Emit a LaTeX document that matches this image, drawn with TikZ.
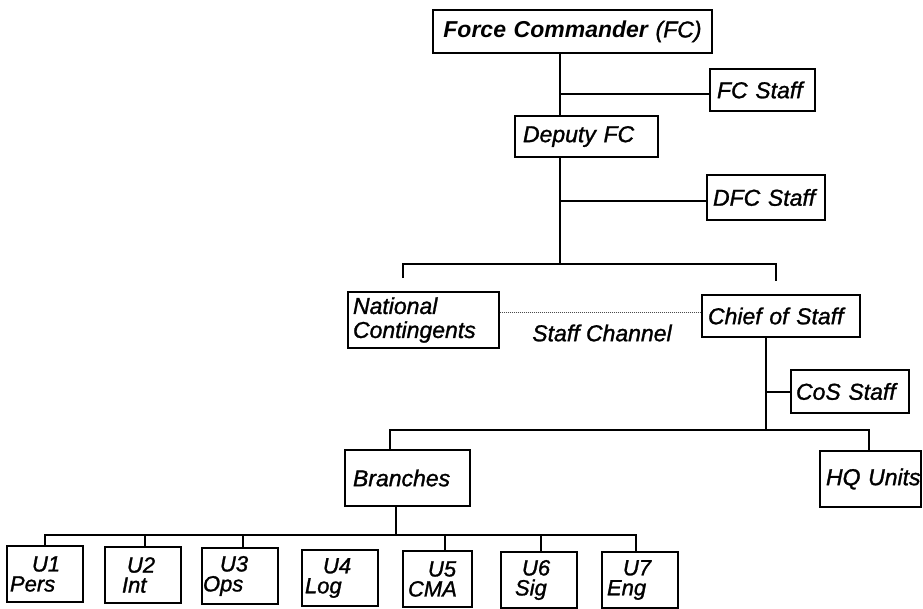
\documentclass[tikz,border=0pt]{standalone}
\usepackage{fontspec}
\setmainfont{Liberation Sans}[ItalicFeatures={FakeBold=1.2}]
\newcommand\indt[1]{\hspace*{#1pt}}
\begin{document}
\begin{tikzpicture}[x=1pt,y=-1pt,
  every node/.style={font=\fontsize{23}{24}\selectfont\itshape},
  box/.style={draw, line width=1.3pt, inner xsep=0pt, inner ysep=0pt, align=left},
  ubox/.style={box, text width=76pt, minimum height=56pt, font=\fontsize{22}{20}\selectfont\itshape},
  conn/.style={line width=1.4pt},
  chan/.style={line width=1pt, densely dotted, black!70}
]
\useasboundingbox (0,0) rectangle (923,608);

% boxes
\node[box, align=center, text width=279pt, minimum height=43pt] (FC) at (572.5,31.5) {\textbf{Force Commander} (FC)};
\node[box, text width=105pt, minimum height=42pt] (FCS) at (762.5,90) {\indt{7}\mbox{FC Staff}};
\node[box, text width=143pt, minimum height=41pt] (DFC) at (586.5,136.5) {\indt{8}\mbox{Deputy FC}};
\node[box, text width=118pt, minimum height=45pt] (DFCS) at (766,197.5) {\indt{6}\mbox{DFC Staff}};
\node[box, text width=151pt, minimum height=56pt] (NC) at (423.5,320) {\indt{5}National\\\indt{5}Contingents};
\node[box, text width=158pt, minimum height=42pt] (CoS) at (781,316) {\indt{6}\mbox{Chief of Staff}};
\node (SC) at (602,333) {Staff Channel};
\node[box, text width=118pt, minimum height=43pt] (CoSS) at (850,391.5) {\indt{5}\mbox{CoS Staff}};
\node[box, text width=125pt, minimum height=56pt] (Br) at (407.5,478) {\indt{8}Branches};
\node[box, text width=101pt, minimum height=56pt] (HQ) at (870.5,479) {\indt{6}\mbox{HQ Units}};

\node[ubox] (U1) at (45,574)    {\indt{25}U1\\\indt{3}Pers};
\node[ubox] (U2) at (143,575)   {\indt{22}U2\\\indt{17}Int};
\node[ubox] (U3) at (240,576)   {\indt{18}U3\\\indt{1}Ops};
\node[ubox] (U4) at (340,578)   {\indt{21}U4\\\indt{3}Log};
\node[ubox, text width=69pt] (U5) at (437.5,579) {\indt{25}U5\\\indt{5}CMA};
\node[ubox] (U6) at (539,580)   {\indt{21}U6\\\indt{14}Sig};
\node[ubox] (U7) at (640,580)   {\indt{21}U7\\\indt{5}Eng};

% junction points
\coordinate (jFC) at (560,94);
\coordinate (jD) at (560,201);
\coordinate (b1) at (560,264);
\coordinate (b1l) at (403,264);
\coordinate (b1r) at (776,264);
\coordinate (tNC) at (403,278);
\coordinate (tCoS) at (776,281);
\coordinate (dy) at (0,312);
\coordinate (jC) at (766,392);
\coordinate (b2) at (766,430);
\coordinate (b2l) at (390,430);
\coordinate (b2r) at (869,430);
\coordinate (b3) at (396,535);
\coordinate (b3l) at (45,535);
\coordinate (b3r) at (636,535);
\coordinate (d2) at (145,535);
\coordinate (d3) at (243,535);
\coordinate (d5) at (445,535);
\coordinate (d6) at (541,535);

% connectors
\draw[conn] (FC.south -| jFC) -- (DFC.north -| jFC);
\draw[conn] (jFC) -- (FCS.west |- jFC);
\draw[conn] (DFC.south -| jD) -- (b1);
\draw[conn] (jD) -- (DFCS.west |- jD);
\draw[conn] (tNC) -- (b1l) -- (b1r) -- (tCoS);
\draw[chan] (NC.east |- dy) -- (CoS.west |- dy);
\draw[conn] (CoS.south -| jC) -- (b2);
\draw[conn] (jC) -- (CoSS.west |- jC);
\draw[conn] (Br.north -| b2l) -- (b2l) -- (b2r) -- (HQ.north -| b2r);
\draw[conn] (Br.south -| b3) -- (b3);
\draw[conn] (U1.north -| b3l) -- (b3l) -- (b3r) -- (U7.north -| b3r);
\draw[conn] (d2) -- (U2.north -| d2);
\draw[conn] (d3) -- (U3.north -| d3);
\draw[conn] (d5) -- (U5.north -| d5);
\draw[conn] (d6) -- (U6.north -| d6);
\end{tikzpicture}
\end{document}
